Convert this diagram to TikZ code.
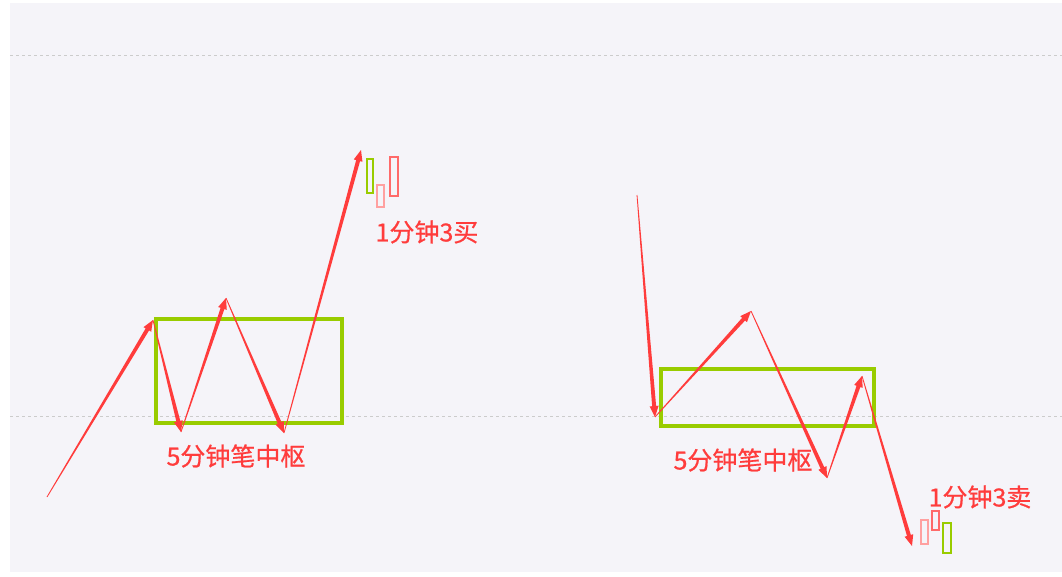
\documentclass[tikz,border=0pt]{standalone}
\usepackage{fontspec}
\setmainfont{Noto Sans CJK SC}
\newfontfamily\lblfont{Noto Sans CJK SC}[FakeBold=0.7]
\usetikzlibrary{calc}
\definecolor{bired}{HTML}{FF3C3C}
\definecolor{zsgreen}{HTML}{99CC00}
\definecolor{panel}{HTML}{F5F4F9}
\definecolor{gridgray}{HTML}{CCCCCC}
\definecolor{kpink}{HTML}{FFA0A0}
\definecolor{kred}{HTML}{FF6A6A}
\tikzset{
    zhongshu/.style={draw=zsgreen, line width=3.2pt},
    lbltext/.style={text=bired, font=\lblfont\fontsize{25}{25}\selectfont, inner sep=0pt},
    kbar/.style={line width=1.5pt},
    gridline/.style={draw=gridgray, line width=1pt, dash pattern=on 3pt off 3pt},
}
% one stroke: thin at the start, wider towards the head
\newcommand{\bi}[2]{%
    \coordinate (h) at ($(#2)!11pt!(#1)$);
    \fill[bired] ($(#1)!0.4pt!90:(#2)$) -- ($(h)!2pt!90:(#2)$) -- ($(h)!4.5pt!90:(#2)$) -- (#2)
        -- ($(h)!4.5pt!-90:(#2)$) -- ($(h)!2pt!-90:(#2)$) -- ($(#1)!0.4pt!-90:(#2)$) -- cycle;
}

\begin{document}
\begin{tikzpicture}[x=1pt,y=-1pt]
    \useasboundingbox (0,0) rectangle (1062,576);
    \fill[white] (0,0) rectangle (1062,576);
    \fill[panel] (10,3) rectangle (1062,572);
    \draw[gridline] (10,55) -- (1062,55);
    \draw[gridline] (10,416) -- (1062,416);

    % left: 5 min pivot, then 1 min third buy
    \draw[zhongshu] (156,319) rectangle (342,423);
    \coordinate (a0) at (47,497);
    \coordinate (a1) at (153,320);
    \coordinate (a2) at (181,432);
    \coordinate (a3) at (226,298);
    \coordinate (a4) at (284,433);
    \coordinate (a5) at (361,150);
    \foreach \p/\q in {a0/a1,a1/a2,a2/a3,a3/a4,a4/a5}{\bi{\p}{\q}}

    \draw[kbar, zsgreen] (367,159) rectangle (373,193);
    \draw[kbar, kpink] (377,185) rectangle (384,207);
    \draw[kbar, kred] (390,157) rectangle (398,196);

    \node[lbltext] (zsleft) at (236,456) {5分钟笔中枢};
    \node[lbltext] (buy3) at (427,232) {1分钟3买};

    % right: 5 min pivot, then 1 min third sell
    \draw[zhongshu] (661,369) rectangle (874,426);
    \coordinate (b0) at (637,195);
    \coordinate (b1) at (655,417);
    \coordinate (b2) at (751,311);
    \coordinate (b3) at (827,478);
    \coordinate (b4) at (862,376);
    \coordinate (b5) at (912,546);
    \foreach \p/\q in {b0/b1,b1/b2,b2/b3,b3/b4,b4/b5}{\bi{\p}{\q}}

    \draw[kbar, kpink] (921,520) rectangle (928,544);
    \draw[kbar, kred] (932,511) rectangle (939,530);
    \draw[kbar, zsgreen] (943,523) rectangle (951,553);

    \node[lbltext] (zsright) at (743,460) {5分钟笔中枢};
    \node[lbltext] (sell3) at (980,497) {1分钟3卖};
\end{tikzpicture}
\end{document}
